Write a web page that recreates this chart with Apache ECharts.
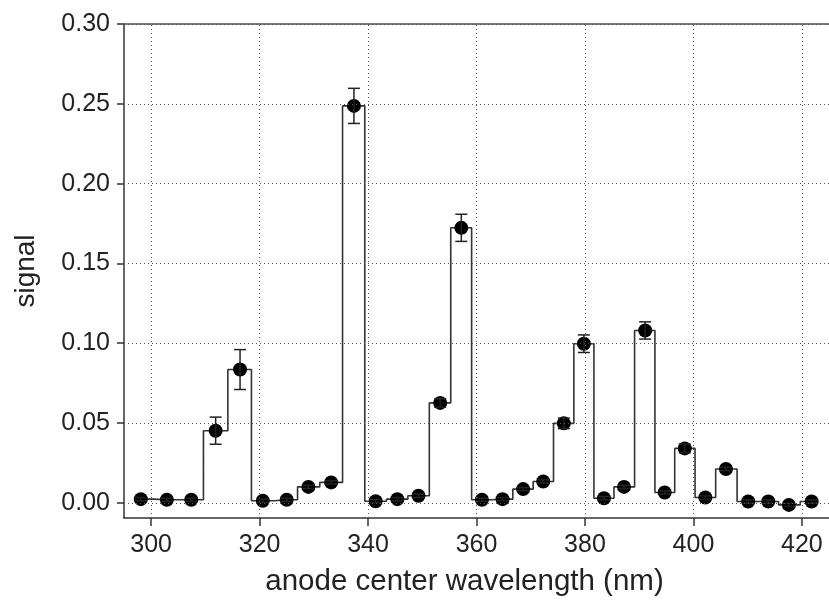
<!DOCTYPE html>
<html>
<head>
<meta charset="utf-8">
<script src="https://cdn.jsdelivr.net/npm/echarts@6/dist/echarts.min.js"></script>
<style>
    html, body { margin: 0; padding: 0; background: #fff; }
    #chart { width: 829px; height: 601px; }
</style>
</head>
<body>
<div id="chart"></div>
<script>
    // anode center wavelength (nm) of each channel
    const wavelength = [298.1, 302.9, 307.4, 311.9, 316.4, 320.6, 325.0, 329.0, 333.2, 337.4,
        341.4, 345.4, 349.3, 353.3, 357.2, 361.0, 364.8, 368.6, 372.3, 376.1, 379.8,
        383.5, 387.2, 391.1, 394.7, 398.4, 402.2, 406.0, 410.1, 413.8, 417.6, 421.8]
    const signal = [0.0023, 0.0019, 0.0019, 0.0452, 0.0835, 0.0013, 0.0019, 0.0100, 0.0128, 0.2487,
        0.0010, 0.0023, 0.0044, 0.0626, 0.1723, 0.0019, 0.0023, 0.0086, 0.0134, 0.0498, 0.0997,
        0.0029, 0.0100, 0.1080, 0.0065, 0.0341, 0.0033, 0.0212, 0.0008, 0.0008, -0.0013, 0.0008]
    const errors = [0.001, 0.001, 0.001, 0.0085, 0.0125, 0.001, 0.001, 0.001, 0.001, 0.011,
        0.001, 0.001, 0.001, 0.0026, 0.0085, 0.001, 0.001, 0.001, 0.001, 0.0033, 0.0055,
        0.001, 0.001, 0.0054, 0.001, 0.0027, 0.001, 0.001, 0.001, 0.001, 0.001, 0.001]
    const xTicks = [300, 320, 340, 360, 380, 400, 420]
    const yTicks = [0, 0.05, 0.10, 0.15, 0.20, 0.25, 0.30]

    const font = 'Liberation Sans, Arial, sans-serif'
    const ink = '#222'
    const gridStyle = { color: '#555', width: 1, type: [1, 3] }

    const points = wavelength.map((w, i) => [w, signal[i]])
    const bars = wavelength.map((w, i) => [w, signal[i], errors[i]])

    const chart = echarts.init(document.getElementById('chart'), null, { renderer: 'canvas' })
    chart.setOption({
        animation: false,
        backgroundColor: '#fff',
        grid: {
            left: 124,
            right: 0,
            top: 24,
            bottom: 83,
            containLabel: false,
            outerBoundsMode: 'none'
        },
        xAxis: [
            {
                type: 'value',
                min: 295,
                max: 425,
                position: 'bottom',
                name: 'anode center wavelength (nm)',
                nameLocation: 'middle',
                nameGap: 49,
                nameTextStyle: { fontFamily: font, fontSize: 29.5, color: ink, padding: [0, 24, 0, 0] },
                axisLine: { onZero: false, lineStyle: { color: '#333', width: 1.5 } },
                axisTick: { customValues: xTicks, length: 8, lineStyle: { color: '#333', width: 1.5 } },
                axisLabel: { customValues: xTicks, margin: 15, fontFamily: font, fontSize: 25, color: ink },
                splitLine: { show: false }
            },
            {
                type: 'value',
                min: 295,
                max: 425,
                position: 'top',
                axisLine: { onZero: false, lineStyle: { color: '#777', width: 2 } },
                axisTick: { show: false },
                axisLabel: { show: false },
                splitLine: { show: false }
            }
        ],
        yAxis: {
            type: 'value',
            min: -0.0095,
            max: 0.30,
            name: 'signal',
            nameLocation: 'middle',
            nameGap: 84,
            nameTextStyle: { fontFamily: font, fontSize: 28, color: ink },
            axisLine: { onZero: false, lineStyle: { color: '#333', width: 1.5 } },
            axisTick: { customValues: yTicks, length: 7, lineStyle: { color: '#333', width: 1.5 } },
            axisLabel: {
                customValues: yTicks,
                margin: 14,
                fontFamily: font,
                fontSize: 25,
                color: ink,
                formatter: v => v.toFixed(2)
            },
            splitLine: { show: false }
        },
        series: [
            {
                type: 'line',
                data: points,
                step: 'middle',
                clip: false,
                symbol: 'circle',
                symbolSize: 14,
                itemStyle: { color: '#000' },
                lineStyle: { color: '#333', width: 1.6 },
                z: 3,
                markLine: {
                    silent: true,
                    symbol: 'none',
                    label: { show: false },
                    lineStyle: gridStyle,
                    emphasis: { disabled: true },
                    data: xTicks.map(v => ({ xAxis: v })).concat(yTicks.map(v => ({ yAxis: v })))
                }
            },
            {
                type: 'custom',
                data: bars,
                clip: false,
                z: 4,
                renderItem(params, api) {
                    const x = api.value(0), y = api.value(1), e = api.value(2)
                    const top = api.coord([x, y + e])
                    const bot = api.coord([x, y - e])
                    const hw = 6
                    const style = { stroke: '#222', lineWidth: 1.5 }
                    return {
                        type: 'group',
                        children: [
                            { type: 'line', shape: { x1: top[0], y1: top[1], x2: bot[0], y2: bot[1] }, style },
                            { type: 'line', shape: { x1: top[0] - hw, y1: top[1], x2: top[0] + hw, y2: top[1] }, style },
                            { type: 'line', shape: { x1: bot[0] - hw, y1: bot[1], x2: bot[0] + hw, y2: bot[1] }, style }
                        ]
                    }
                }
            }
        ]
    })
</script>
</body>
</html>
